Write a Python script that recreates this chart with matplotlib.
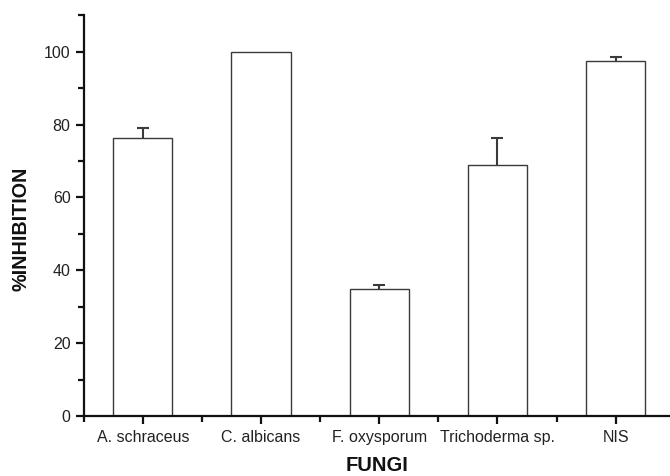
import numpy as np
import matplotlib.pyplot as plt
from matplotlib.ticker import MultipleLocator

plt.rcParams['font.family'] = ['Liberation Sans', 'DejaVu Sans']

fungi = ["A. schraceus", "C. albicans", "F. oxysporum", "Trichoderma sp.", "NIS"]
inhibition = [76.2, 100.0, 34.9, 68.9, 97.4]
err = [2.8, 0.0, 1.1, 7.3, 1.1]

fig = plt.figure(figsize=(6.7, 4.76), dpi=100)
ax = fig.add_axes([0.125, 0.126, 0.875, 0.842])

x = np.arange(1, len(fungi) + 1)
vals = np.array(inhibition)
errs = np.array(err)
has_err = errs > 0
# error bars sit under the white bars so only the upper half shows
ax.errorbar(x[has_err], vals[has_err], yerr=errs[has_err], fmt="none",
            ecolor="#3a3a3a", elinewidth=1.5, capsize=4, capthick=1.5, zorder=1)
ax.bar(x, vals, width=0.5, color="white", edgecolor="#3a3a3a",
       linewidth=1.0, zorder=2)

ax.set_xlim(0.5, 5.46)
ax.set_ylim(0, 110)
ax.set_xticks(x)
ax.set_xticklabels(fungi)
ax.xaxis.set_minor_locator(MultipleLocator(1, offset=0.5))
ax.yaxis.set_major_locator(MultipleLocator(20))
ax.yaxis.set_minor_locator(MultipleLocator(10))

for side in ["top", "right"]:
    ax.spines[side].set_visible(False)
for side in ["left", "bottom"]:
    ax.spines[side].set_linewidth(1.6)
    ax.spines[side].set_color("#111111")

ax.tick_params(which="major", direction="out", length=6, width=1.6,
               labelsize=11.5, colors="#111111", labelcolor="#222222")
ax.tick_params(which="minor", direction="out", length=4, width=1.6,
               colors="#111111")
ax.tick_params(axis="x", which="major", pad=4)

ax.set_xlabel("FUNGI", fontsize=14.5, fontweight="bold", color="#111111", labelpad=8)
ax.set_ylabel("%INHIBITION", fontsize=14.2, fontweight="bold", color="#111111")
ax.yaxis.set_label_coords(-0.09, 0.466)

fig.savefig("out.png", dpi=100)
